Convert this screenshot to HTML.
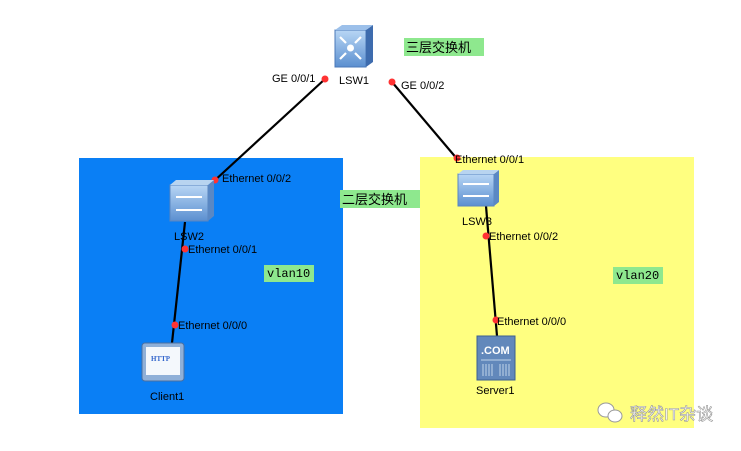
<!DOCTYPE html>
<html><head><meta charset="utf-8"><style>
body{margin:0;background:#fff;width:741px;height:446px;overflow:hidden;font-family:"Liberation Sans","Noto Sans CJK SC",sans-serif}
svg text{font-family:"Liberation Sans","Noto Sans CJK SC",sans-serif}
</style></head><body>
<svg width="741" height="446" xmlns="http://www.w3.org/2000/svg">
<defs>
<linearGradient id="sw" x1="0" y1="0" x2="0" y2="1"><stop offset="0" stop-color="#b8d6f5"/><stop offset="1" stop-color="#5b8fd0"/></linearGradient>
</defs>
<rect x="79" y="158" width="264" height="256" fill="#0a7ff5"/>
<rect x="420" y="157" width="274" height="271" fill="#ffff80"/>
<g stroke="#000" stroke-width="2.2" fill="none">
<line x1="325" y1="79" x2="213" y2="182"/>
<line x1="392" y1="82" x2="458" y2="160"/>
<line x1="185" y1="222" x2="172" y2="343"/>
<line x1="486" y1="206" x2="497" y2="336"/>
</g>
<g fill="#f33">
<circle cx="325" cy="79" r="3.5"/><circle cx="392" cy="82" r="3.5"/>
<circle cx="215" cy="180" r="3.5"/><circle cx="457" cy="158" r="3.5"/>
<circle cx="185" cy="249" r="3.5"/><circle cx="175" cy="325" r="3.5"/>
<circle cx="486" cy="236" r="3.5"/><circle cx="496" cy="320" r="3.5"/>
</g>
<!-- LSW1 -->
<rect x="335" y="30" width="31" height="37" fill="url(#sw)" stroke="#4a78b8"/>
<polygon points="366,30 373,25 373,62 366,67" fill="#3e6cae"/>
<polygon points="335,30 342,25 373,25 366,30" fill="#9cc0ea"/>
<circle cx="350.5" cy="48" r="3.5" fill="#fff"/>
<g stroke="#fff" stroke-width="2.2"><line x1="340" y1="37" x2="346" y2="43"/><line x1="361" y1="37" x2="355" y2="43"/><line x1="340" y1="59" x2="346" y2="53"/><line x1="361" y1="59" x2="355" y2="53"/></g>
<!-- LSW2 -->
<rect x="170" y="185" width="38" height="36" fill="url(#sw)" stroke="#5a86c0"/>
<polygon points="208,185 214,180 214,216 208,221" fill="#5a88c4"/>
<polygon points="170,185 176,180 214,180 208,185" fill="#b8d4f0"/>
<g stroke="#fff" stroke-width="2"><line x1="176" y1="197" x2="202" y2="197"/><line x1="176" y1="210" x2="202" y2="210"/></g>
<!-- LSW3 -->
<rect x="458" y="174" width="36" height="32" fill="url(#sw)" stroke="#5a86c0"/>
<polygon points="494,174 499,170 499,202 494,206" fill="#5a88c4"/>
<polygon points="458,174 463,170 499,170 494,174" fill="#b8d4f0"/>
<g stroke="#fff" stroke-width="2"><line x1="463" y1="184" x2="489" y2="184"/><line x1="463" y1="196" x2="489" y2="196"/></g>
<!-- Client -->
<rect x="142" y="343" width="42" height="38" rx="3" fill="#8fb0d8" stroke="#4b6f9f"/>
<rect x="146" y="347" width="34" height="28" fill="#f4f8fc"/>
<text x="151" y="361" font-size="7" font-weight="bold" fill="#36c" style="font-family:'Liberation Serif',serif">HTTP</text>
<!-- Server -->
<rect x="477" y="336" width="38" height="44" fill="#6288bb" stroke="#3c5f8f"/>
<text x="481" y="354" font-size="11" font-weight="bold" fill="#fff">.COM</text>
<g stroke="#c0d4ea" stroke-width="1"><line x1="481" y1="360" x2="511" y2="360"/>
<line x1="483" y1="364" x2="483" y2="376"/><line x1="486" y1="364" x2="486" y2="376"/><line x1="489" y1="364" x2="489" y2="376"/><line x1="492" y1="364" x2="492" y2="376"/><line x1="500" y1="364" x2="500" y2="376"/><line x1="503" y1="364" x2="503" y2="376"/><line x1="506" y1="364" x2="506" y2="376"/><line x1="509" y1="364" x2="509" y2="376"/></g>
<g font-size="11" fill="#000">
<text x="339" y="84">LSW1</text>
<text x="272" y="82">GE 0/0/1</text>
<text x="401" y="89">GE 0/0/2</text>
<text x="222" y="182">Ethernet 0/0/2</text>
<text x="174" y="240">LSW2</text>
<text x="188" y="253">Ethernet 0/0/1</text>
<text x="178" y="329">Ethernet 0/0/0</text>
<text x="150" y="400">Client1</text>
<text x="455" y="163">Ethernet 0/0/1</text>
<text x="462" y="225">LSW3</text>
<text x="489" y="240">Ethernet 0/0/2</text>
<text x="497" y="325">Ethernet 0/0/0</text>
<text x="476" y="394">Server1</text>
</g>
<rect x="404" y="38" width="80" height="18" fill="#8ee88e"/>
<text x="406" y="52" font-size="13">三层交换机</text>
<rect x="340" y="190" width="80" height="18" fill="#8ee88e"/>
<text x="342" y="204" font-size="13">二层交换机</text>
<rect x="264" y="265" width="50" height="17" fill="#8ee88e"/>
<text x="267" y="277" font-size="12" style="font-family:'Liberation Mono',monospace">vlan10</text>
<rect x="613" y="267" width="50" height="17" fill="#8ee88e"/>
<text x="616" y="279" font-size="12" style="font-family:'Liberation Mono',monospace">vlan20</text>
<g fill="#fff" stroke="#999" stroke-width="1"><ellipse cx="606" cy="410" rx="8" ry="7"/><ellipse cx="615" cy="416" rx="7" ry="6"/></g>
<text x="630" y="420" font-size="17" fill="#fff" stroke="#999" stroke-width="0.6">释然IT杂谈</text>
</svg>
</body></html>
